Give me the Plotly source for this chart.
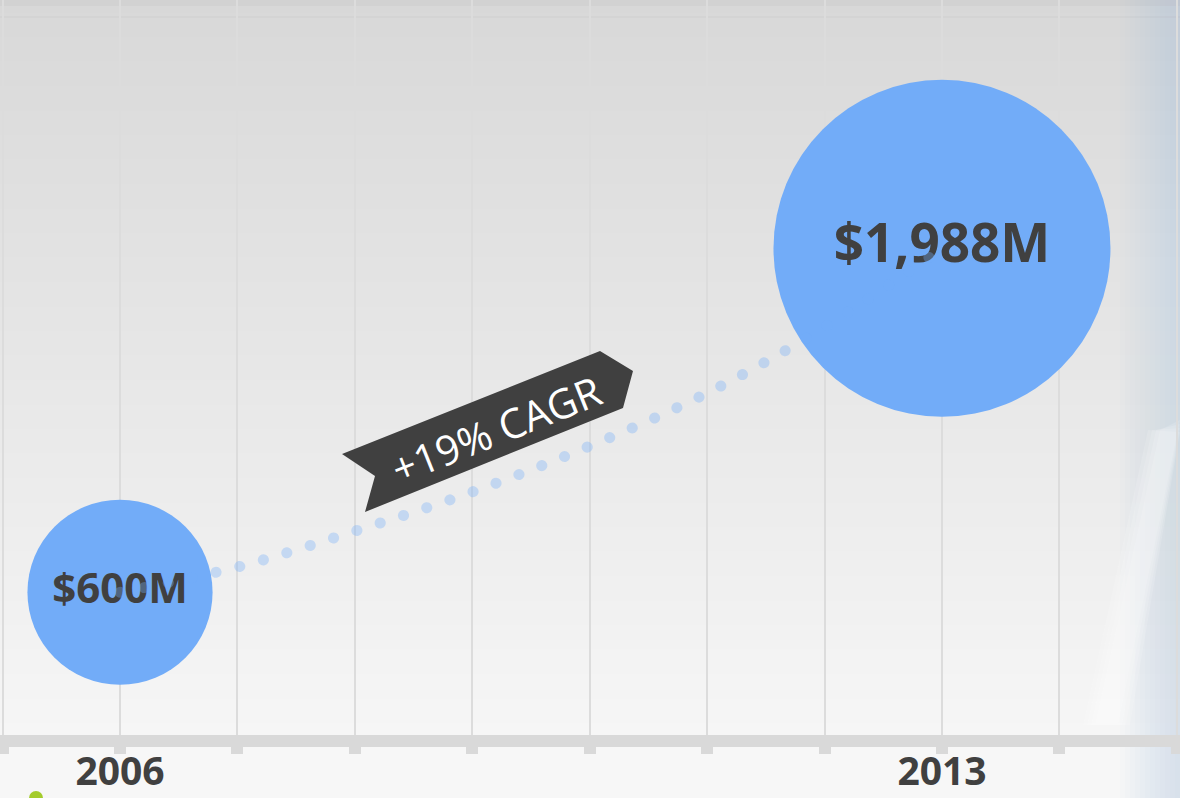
import plotly.graph_objects as go

# values
years = [2006, 2013]
revenue = [600, 1988]
revenue_labels = ["$600M", "$1,988M"]
trend_years = [2006, 2007, 2008, 2009, 2010, 2011, 2012, 2013]
trend_values = [600, 702, 847, 1005, 1190, 1404, 1670, 1988]
tick_labels = ["2006", "2013"]
cagr_label = "+19% CAGR"

W, H = 1180, 798
PLOT_BOTTOM = 735
BLUE = "#72acf8"
DARK = "#404040"


def px(x):
    return x / W


def py(y):
    return (PLOT_BOTTOM - y) / PLOT_BOTTOM


def background_shapes():
    shapes = []
    # vertical grey gradient behind the plot
    n = 60
    top, bottom = (216, 216, 216), (246, 246, 246)
    for i in range(n):
        t = i / (n - 1)
        c = tuple(round(a + (b - a) * t) for a, b in zip(top, bottom))
        shapes.append(dict(type="rect", xref="paper", yref="paper", layer="below",
                           x0=0, x1=1, y0=py(PLOT_BOTTOM * (i + 1) / n) - 0.001,
                           y1=py(PLOT_BOTTOM * i / n),
                           fillcolor="rgb(%d,%d,%d)" % c, line_width=0))
    shapes.append(dict(type="rect", xref="paper", yref="paper", layer="below",
                       x0=0, x1=1, y0=py(6), y1=1, fillcolor="#d2d2d2", line_width=0))
    shapes.append(dict(type="rect", xref="paper", yref="paper", layer="below",
                       x0=0, x1=1, y0=py(18), y1=py(16), fillcolor="#d4d4d4", line_width=0))
    # soft bluish photo edge on the right
    for k in range(12):
        x0 = 1120 + k * 5
        shapes.append(dict(type="rect", xref="paper", yref="paper", layer="below",
                           x0=px(x0), x1=1, y0=py(798), y1=1,
                           fillcolor="rgba(160,185,215,0.035)", line_width=0))
    for k in range(4):
        shapes.append(dict(type="path", xref="paper", yref="paper", layer="below",
                           path="M %f %f L %f %f L %f %f L %f %f Z" % (
                               px(1180), py(420 + k * 4), px(1160 - k * 4), py(430),
                               px(1095 - k * 4), py(725), px(1118 + k * 4), py(725)),
                           fillcolor="rgba(255,255,255,0.14)", line_width=0))
    # green dot peeking in at the bottom-left
    shapes.append(dict(type="circle", xref="paper", yref="paper",
                       x0=px(29), x1=px(43), y0=py(805), y1=py(791),
                       fillcolor="#a4cc2c", line_width=0))
    return shapes


def ribbon_shape():
    pts = [(342, 454), (600, 351), (633, 371), (623, 408), (365, 512), (375, 476)]
    path = "M " + " L ".join("%f %f" % (px(x), py(y)) for x, y in pts) + " Z"
    return dict(type="path", xref="paper", yref="paper", path=path,
                fillcolor=DARK, line_width=0, layer="above")


fig = go.Figure()

# bubbles, area proportional to revenue
max_d = 337
fig.add_trace(go.Scatter(
    x=years, y=revenue, mode="markers+text",
    marker=dict(size=revenue, sizemode="area", sizeref=2 * max(revenue) / max_d ** 2,
                color=BLUE, line_width=0, opacity=1),
    text=revenue_labels, textposition="middle center",
    textfont=dict(family="Open Sans", size=[42, 53], color=DARK, weight="bold"),
    hoverinfo="skip", showlegend=False,
))

# dotted growth curve, drawn over the bubbles
fig.add_trace(go.Scatter(
    x=trend_years, y=trend_values, mode="lines",
    line=dict(color="rgba(114,172,248,0.34)", width=11, dash="0.1px,24.4px",
              shape="spline"),
    hoverinfo="skip", showlegend=False,
))

fig.add_annotation(
    text=cagr_label, xref="paper", yref="paper", x=px(496), y=py(429),
    showarrow=False, textangle=-21.8,
    font=dict(family="Open Sans", size=41, color="white"),
)

fig.update_layout(
    width=W, height=H,
    margin=dict(l=0, r=0, t=0, b=H - PLOT_BOTTOM),
    paper_bgcolor="#f7f7f7", plot_bgcolor="rgba(0,0,0,0)",
    shapes=background_shapes() + [ribbon_shape()],
    xaxis=dict(
        range=[2004.978, 2015.027], tickvals=years, ticktext=tick_labels,
        tickfont=dict(family="Open Sans", size=39, color=DARK, weight="bold"),
        ticklabelstandoff=-16,
        showgrid=True, gridcolor="#dcdcdc", gridwidth=2, zeroline=False,
        showline=True, linecolor="#d9d9d9", linewidth=12,
        ticks="outside", ticklen=7, tickwidth=12, tickcolor="#d9d9d9",
        minor=dict(tick0=2005, dtick=1, showgrid=True, gridcolor="#dcdcdc", gridwidth=2,
                   ticks="outside", ticklen=7, tickwidth=12, tickcolor="#d9d9d9"),
        automargin=False, fixedrange=True,
    ),
    yaxis=dict(range=[24.2, 2990], visible=False, fixedrange=True),
    showlegend=False,
)

page_fix = ("document.body.style.margin='0';"
            "document.querySelectorAll('.js-line').forEach(function(p)"
            "{p.style.strokeLinecap='round';});")
fig.write_html("out.html", post_script=page_fix, config={"displayModeBar": False})
